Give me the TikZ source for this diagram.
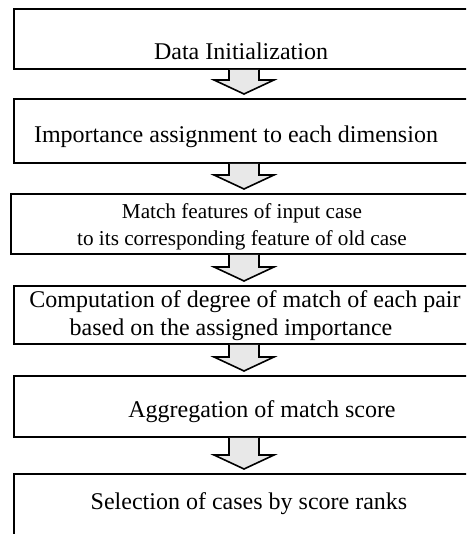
\documentclass[tikz,border=0pt]{standalone}
\usepackage{fontspec}
\setmainfont{Liberation Serif}
\usetikzlibrary{calc}
\definecolor{arrowgray}{gray}{0.91}
\tikzset{
	stage/.style={draw, line width=1pt, anchor=north west, minimum width=240pt, inner sep=0pt},
	steptext/.style={anchor=base, inner sep=0pt, font=\fontsize{12}{14}\selectfont},
	smalltext/.style={anchor=base, inner sep=0pt, font=\fontsize{10.6}{12}\selectfont},
	blockarrow/.style={draw, line width=0.8pt, fill=arrowgray, line join=miter}
}
% block arrow from the bottom of one stage to the top of the next
\newcommand{\flowarrow}[2]{%
	\draw[blockarrow]
	($(244,0 |- #1.south)+(-15,0)$) -- ($(244,0 |- #2.north)+(-15,18)$) -- ++(-15,0)
	-- ($(244,0 |- #2.north)+(0,4)$) -- ++(30,14) -- ++(-15,0)
	-- ($(244,0 |- #1.south)+(15,0)$);}
\begin{document}
\begin{tikzpicture}[x=0.5pt, y=0.5pt]
	\useasboundingbox (0,0) rectangle (466,534);
	\clip (0,0) rectangle (466,534);
	% stages
	\node[stage, minimum height=30pt] (init) at (13,526) {};
	\node[stage, minimum height=32pt] (weight) at (13,436) {};
	\node[stage, minimum height=30pt] (match) at (10,341) {};
	\node[stage, minimum height=29pt] (degree) at (13,249) {};
	\node[stage, minimum height=30.5pt] (aggr) at (13,159) {};
	\node[stage, minimum height=40.5pt] (select) at (13,61) {};
	% texts
	\path
	(241,474)node[steptext] (initT) {Data Initialization}
	(236,391)node[steptext] (weightT) {Importance assignment to each dimension}
	(242,315)node[smalltext] (matchA) {Match features of input case}
	(242,288)node[smalltext] (matchB) {to its corresponding feature of old case}
	(245,226)node[steptext] (degreeA) {Computation of degree of match of each pair}
	(231,198)node[steptext] (degreeB) {based on the assigned importance}
	(262,116)node[steptext] (aggrT) {Aggregation of match score}
	(249,25)node[steptext] (selectT) {Selection of cases by score ranks}
	;
	% arrows
	\flowarrow{init}{weight}
	\flowarrow{weight}{match}
	\flowarrow{match}{degree}
	\flowarrow{degree}{aggr}
	\flowarrow{aggr}{select}
\end{tikzpicture}
\end{document}
